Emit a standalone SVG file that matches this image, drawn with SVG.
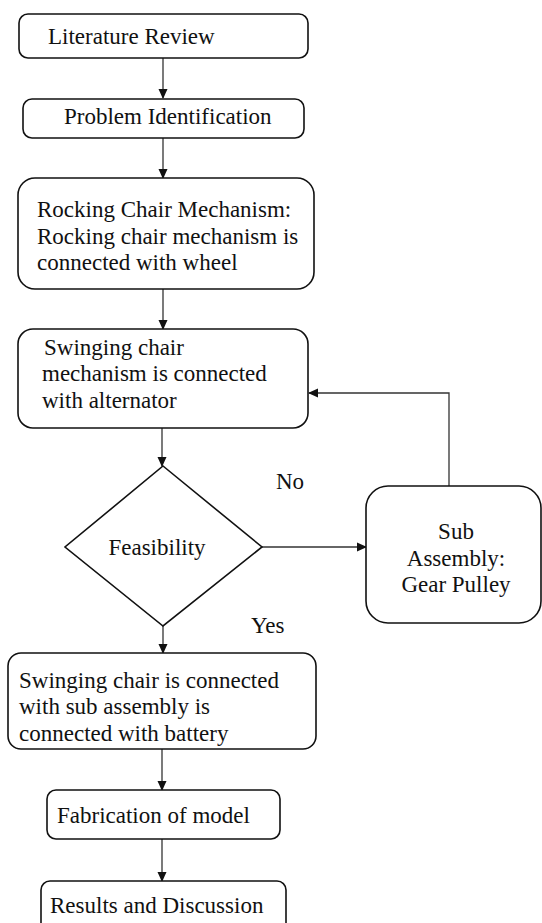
<svg xmlns="http://www.w3.org/2000/svg" width="542" height="923" viewBox="0 0 542 923">
<style>
.box{fill:#fff;stroke:#111;stroke-width:1.6}
.t{font-family:"Liberation Serif","Times New Roman",serif;font-size:23px;fill:#111}
.c{text-anchor:middle}
.ln{fill:none;stroke:#333;stroke-width:1.3}
</style>
<defs>
<marker id="ah" markerWidth="10" markerHeight="10" refX="9" refY="5" orient="auto" markerUnits="userSpaceOnUse">
<path d="M0,0.5 L10,5 L0,9.5 Z" fill="#111"/>
</marker>
</defs>
<rect width="542" height="923" fill="#fff"/>
<g id="connectors">
<line class="ln" x1="163" y1="58" x2="163" y2="98" marker-end="url(#ah)"/>
<line class="ln" x1="163" y1="138" x2="163" y2="178" marker-end="url(#ah)"/>
<line class="ln" x1="163" y1="289" x2="163" y2="329" marker-end="url(#ah)"/>
<line class="ln" x1="162" y1="428" x2="162" y2="466" marker-end="url(#ah)"/>
<line class="ln" x1="262" y1="547" x2="366" y2="547" marker-end="url(#ah)"/>
<polyline class="ln" points="449,486 449,393 309,393" marker-end="url(#ah)"/>
<line class="ln" x1="163" y1="626" x2="163" y2="653" marker-end="url(#ah)"/>
<line class="ln" x1="162" y1="749" x2="162" y2="790" marker-end="url(#ah)"/>
<line class="ln" x1="162" y1="839" x2="162" y2="881" marker-end="url(#ah)"/>
<text class="t" x="276" y="489">No</text>
<text class="t" x="251" y="633">Yes</text>
</g>
<g id="literature-review">
<rect class="box" x="19" y="14" width="289" height="44" rx="9"/>
<text class="t" x="48" y="44">Literature Review</text>
</g>
<g id="problem-identification">
<rect class="box" x="23" y="99" width="281" height="39" rx="9"/>
<text class="t" x="64" y="124">Problem Identification</text>
</g>
<g id="rocking-chair">
<rect class="box" x="18" y="178" width="296" height="111" rx="17"/>
<text class="t" x="37" y="217">Rocking Chair Mechanism:</text>
<text class="t" x="37" y="244">Rocking chair mechanism is</text>
<text class="t" x="37" y="270">connected with wheel</text>
</g>
<g id="swinging-alternator">
<rect class="box" x="18" y="329" width="290" height="99" rx="15"/>
<text class="t" x="44" y="355">Swinging chair</text>
<text class="t" x="42" y="381">mechanism is connected</text>
<text class="t" x="42" y="408">with alternator</text>
</g>
<g id="feasibility">
<polygon class="box" points="163,466 262,547 163,626 65,547"/>
<text class="t c" x="157" y="555">Feasibility</text>
</g>
<g id="sub-assembly">
<rect class="box" x="366" y="486" width="175" height="137" rx="22"/>
<text class="t c" x="456" y="539">Sub</text>
<text class="t c" x="456" y="566">Assembly:</text>
<text class="t c" x="456" y="592">Gear Pulley</text>
</g>
<g id="battery">
<rect class="box" x="8" y="653" width="308" height="96" rx="13"/>
<text class="t" x="19" y="688">Swinging chair is connected</text>
<text class="t" x="19" y="714">with sub assembly is</text>
<text class="t" x="19" y="741">connected with battery</text>
</g>
<g id="fabrication">
<rect class="box" x="47" y="790" width="233" height="49" rx="9"/>
<text class="t" x="57" y="823">Fabrication of model</text>
</g>
<g id="results">
<rect class="box" x="41" y="881" width="245" height="60" rx="9"/>
<text class="t" x="50" y="913">Results and Discussion</text>
</g>
</svg>
